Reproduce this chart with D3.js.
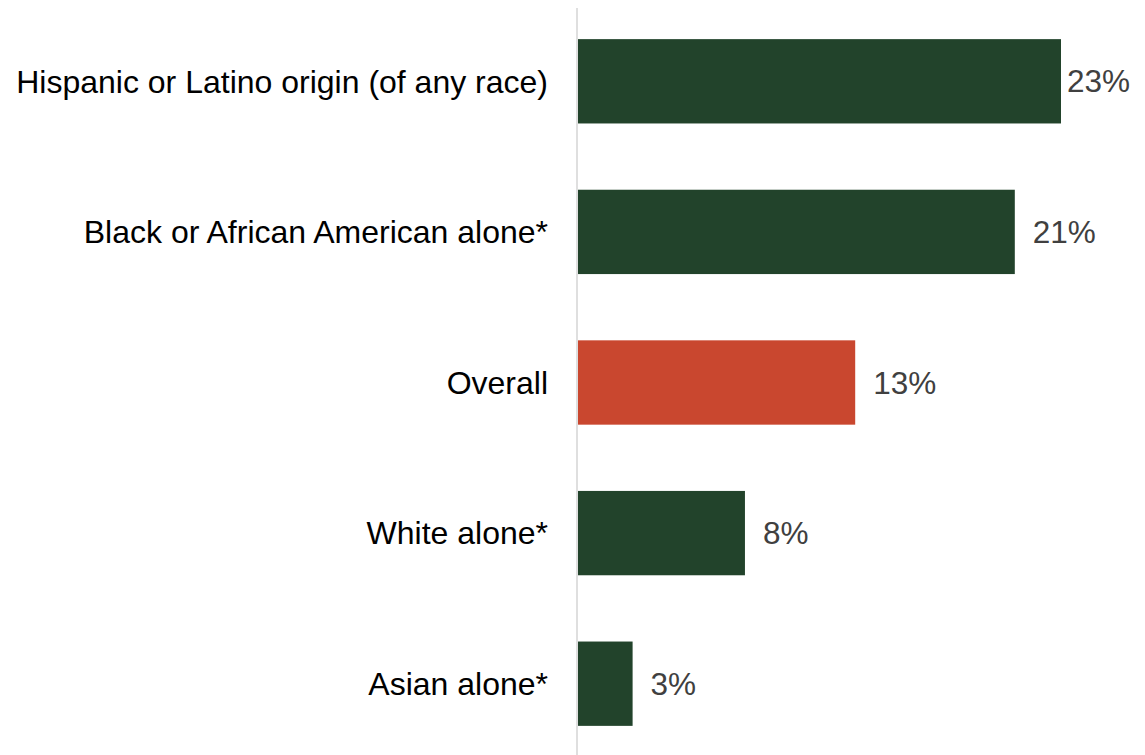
<!DOCTYPE html>
<html>
<head>
<meta charset="utf-8">
<script src="https://cdn.jsdelivr.net/npm/d3@7"></script>
<style>
  html, body { margin: 0; padding: 0; background: #fff; }
  svg { display: block; }
  text { font-family: "Liberation Sans", Arial, sans-serif; }
</style>
</head>
<body>
<svg id="chart" width="1145" height="755"></svg>
<script>
const categories = [
  "Hispanic or Latino origin (of any race)",
  "Black or African American alone*",
  "Overall",
  "White alone*",
  "Asian alone*"
];
const values = [23.0, 20.8, 13.2, 7.95, 2.6];
const valueLabels = ["23%", "21%", "13%", "8%", "3%"];
const highlight = ["Overall"];

const W = 1145, H = 755;
const axisX = 578;
const svg = d3.select("#chart");

const x = d3.scaleLinear().domain([0, 23]).range([axisX, 1061]);
const y = d3.scaleBand().domain(categories).range([6, 759])
  .paddingInner(0.44).paddingOuter(0.22);

const data = categories.map((c, i) => ({ c, v: values[i], label: valueLabels[i] }));

// bars
svg.append("g").selectAll("rect").data(data).join("rect")
  .attr("x", x(0))
  .attr("y", d => y(d.c))
  .attr("width", d => x(d.v) - x(0))
  .attr("height", y.bandwidth())
  .attr("fill", d => highlight.includes(d.c) ? "#c9472f" : "#22432b");

// axis line
svg.append("line")
  .attr("x1", axisX - 1).attr("x2", axisX - 1)
  .attr("y1", 8).attr("y2", H)
  .attr("stroke", "#d4d4d4").attr("stroke-width", 1.5);

// category labels
svg.append("g").selectAll("text").data(data).join("text")
  .attr("x", axisX - 30)
  .attr("y", d => y(d.c) + y.bandwidth() / 2)
  .attr("dy", "0.35em")
  .attr("text-anchor", "end")
  .attr("font-size", 32)
  .attr("fill", "#000")
  .text(d => d.c);

// value labels
svg.append("g").selectAll("text").data(data).join("text")
  .attr("y", d => y(d.c) + y.bandwidth() / 2)
  .attr("dy", "0.35em")
  .attr("font-size", 31.5)
  .attr("fill", "#404040")
  .text(d => d.label)
  .each(function(d) {
    const w = this.getComputedTextLength();
    const px = Math.min(x(d.v) + 18, W - 15 - w);
    d3.select(this).attr("x", px);
  });
</script>
</body>
</html>
